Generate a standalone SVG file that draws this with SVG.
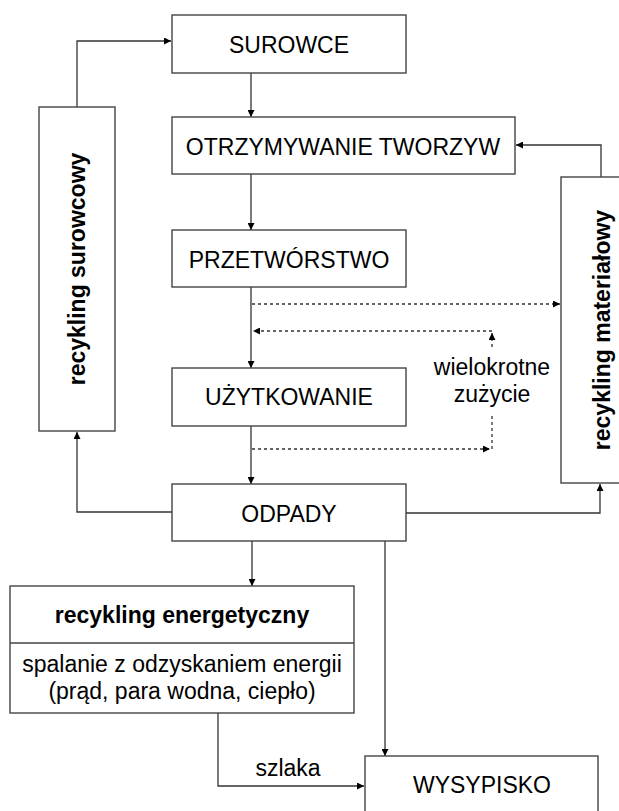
<svg xmlns="http://www.w3.org/2000/svg" width="619" height="811" viewBox="0 0 619 811">
<style>
.box{fill:#fff;stroke:#444;stroke-width:1.4}
.t{font-family:"Liberation Sans",Arial,sans-serif;font-size:23px;fill:#000;text-anchor:middle}
.b{font-weight:bold}
.c{fill:none;stroke:#333;stroke-width:1.3}
.d{fill:none;stroke:#333;stroke-width:1.3;stroke-dasharray:3 3}
</style>
<defs>
<marker id="a" viewBox="0 0 10 10" refX="10" refY="5" markerWidth="7" markerHeight="7" markerUnits="userSpaceOnUse" orient="auto"><path d="M0,0L10,5L0,10z" fill="#000"/></marker>
</defs>
<rect width="619" height="811" fill="#fff"/>
<g id="connectors">
<path class="c" d="M77,107V41H171" marker-end="url(#a)"/>
<path class="c" d="M251,73V117" marker-end="url(#a)"/>
<path class="c" d="M251,174V230" marker-end="url(#a)"/>
<path class="c" d="M251,287V368" marker-end="url(#a)"/>
<path class="c" d="M251,426V484" marker-end="url(#a)"/>
<path class="c" d="M601,177V145H516" marker-end="url(#a)"/>
<path class="d" d="M252,304H560" marker-end="url(#a)"/>
<path class="d" d="M492,347V333" marker-end="url(#a)"/>
<path class="d" d="M492,331H253" marker-end="url(#a)"/>
<path class="d" d="M252,449H490" marker-end="url(#a)"/>
<path class="d" d="M492,449V415"/>
<path class="c" d="M172,512H77V432" marker-end="url(#a)"/>
<path class="c" d="M406,513H600V484" marker-end="url(#a)"/>
<path class="c" d="M252,541V586" marker-end="url(#a)"/>
<path class="c" d="M385,541V756" marker-end="url(#a)"/>
<path class="c" d="M218,713V786H364" marker-end="url(#a)"/>
</g>
<g id="surowce"><rect class="box" x="172" y="15" width="234" height="58"/><text class="t" x="289" y="53">SUROWCE</text></g>
<g id="otrzymywanie"><rect class="box" x="172" y="117" width="343" height="57"/><text class="t" x="343" y="155">OTRZYMYWANIE TWORZYW</text></g>
<g id="przetworstwo"><rect class="box" x="172" y="230" width="234" height="57"/><text class="t" x="289" y="268">PRZETWÓRSTWO</text></g>
<g id="uzytkowanie"><rect class="box" x="172" y="368" width="234" height="58"/><text class="t" x="289" y="405">UŻYTKOWANIE</text></g>
<g id="odpady"><rect class="box" x="172" y="484" width="234" height="57"/><text class="t" x="289" y="522">ODPADY</text></g>
<g id="recykling-surowcowy"><rect class="box" x="39" y="107" width="76" height="324"/><text class="t b" transform="translate(85,269) rotate(-90)">recykling surowcowy</text></g>
<g id="recykling-materialowy"><rect class="box" x="561" y="177" width="82" height="306"/><text class="t b" transform="translate(610,330) rotate(-90)">recykling materiałowy</text></g>
<g id="wielokrotne"><text class="t" x="492" y="375">wielokrotne</text><text class="t" x="492" y="402">zużycie</text></g>
<g id="recykling-energetyczny"><rect class="box" x="10" y="586" width="344" height="127"/><line x1="10" y1="643" x2="354" y2="643" stroke="#444" stroke-width="1.4"/><text class="t b" x="182" y="623">recykling energetyczny</text><text class="t" x="182" y="672">spalanie z odzyskaniem energii</text><text class="t" x="182" y="699">(prąd, para wodna, ciepło)</text></g>
<g id="szlaka"><text class="t" x="288" y="776">szlaka</text></g>
<g id="wysypisko"><rect class="box" x="365" y="756" width="233" height="70"/><text class="t" x="482" y="793">WYSYPISKO</text></g>
</svg>
